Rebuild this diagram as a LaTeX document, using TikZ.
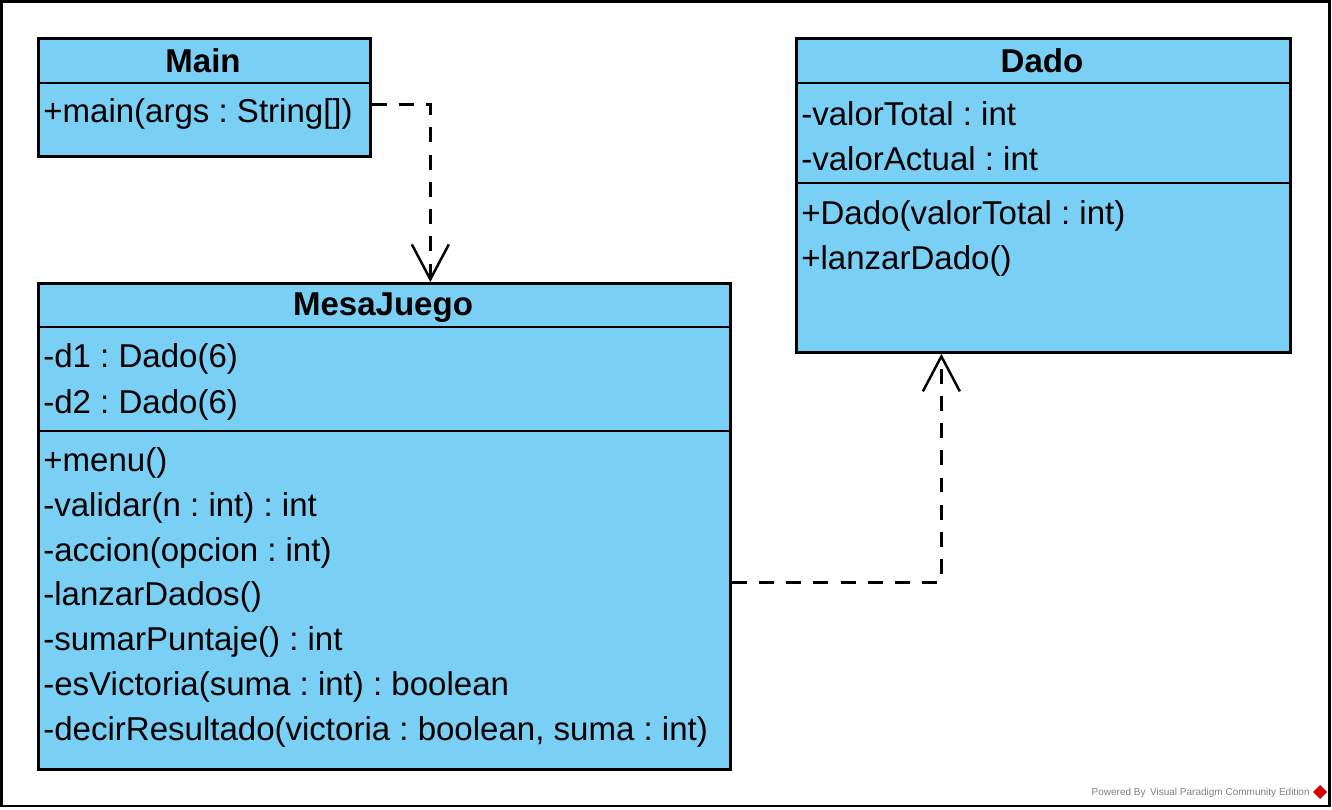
\documentclass[tikz,border=0pt]{standalone}
\usepackage{fontspec}
\setmainfont{Liberation Sans}
\usepackage{xcolor}
\usetikzlibrary{arrows.meta,calc}
\definecolor{vpblue}{RGB}{122,207,245}
\frenchspacing

\begin{document}
\begin{tikzpicture}[x=0.02cm,y=-0.02cm,
 classbox/.style={draw,line width=1.6pt,fill=vpblue,inner sep=0pt,anchor=north west},
 member/.style={anchor=west,inner sep=0pt,font=\fontsize{18.8}{20}\selectfont},
 title/.style={inner sep=0pt,font=\fontsize{18.8}{20}\selectfont\bfseries},
 divider/.style={line width=1.3pt},
 dep/.style={dash pattern=on 8.5pt off 7pt,line width=1.4pt,-{Straight Barb[length=0.7cm,width=0.74cm,line width=1.4pt]}}]
\useasboundingbox (0,0) rectangle (1332,810);
\draw[line width=1.7pt](1.5,1.5) rectangle (1329,806);
% classes
\node[classbox,minimum width=6.64cm,minimum height=2.36cm] (main) at (37,37) {};
\node[classbox,minimum width=13.84cm,minimum height=9.72cm] (mesa) at (37,282) {};
\node[classbox,minimum width=9.88cm,minimum height=6.28cm] (dado) at (795,37) {};
\draw[divider](main.west |- 0,83)--(main.east |- 0,83);
\draw[divider](mesa.west |- 0,327)--(mesa.east |- 0,327)(mesa.west |- 0,431)--(mesa.east |- 0,431);
\draw[divider](dado.west |- 0,83)--(dado.east |- 0,83)(dado.west |- 0,183)--(dado.east |- 0,183);
\node[title] (main-t) at (203,61) {Main};
\node[title] (mesa-t) at (383,308) {MesaJuego};
\node[title] (dado-t) at (1042,61) {Dado};
% members
\node[member] (main-m1) at (43,114) {+main(args : String[])};
\foreach \t [count=\i] in {-d1 : Dado(6),-d2 : Dado(6)}{
\node[member] (mesa-a\i) at (43,359+45.5*\i-45.5) {\t};}
\foreach \t [count=\i] in {+menu(),-validar(n : int) : int,-accion(opcion : int),-lanzarDados(),-sumarPuntaje() : int,-esVictoria(suma : int) : boolean,{-decirResultado(victoria : boolean, suma : int)}}{
\node[member] (mesa-m\i) at (43,463+44.8*\i-44.8) {\t};}
\foreach \t [count=\i] in {-valorTotal : int,-valorActual : int}{
\node[member] (dado-a\i) at (801,114+45*\i-45) {\t};}
\foreach \t [count=\i] in {+Dado(valorTotal : int),+lanzarDado()}{
\node[member] (dado-m\i) at (801,216+45*\i-45) {\t};}
% dependencies
\draw[dep]($(main.east)+(0,7)$)-|($(mesa.north)+(46,0)$);
\draw[dep]($(mesa.east)+(0,56)$)-|($(dado.south)+(-102,0)$);
% watermark
\node[anchor=east,inner sep=0pt,text=gray,font=\fontsize{5.7}{6}\selectfont] (wm) at (1310,793) {Powered By \,Visual Paradigm Community Edition};
\fill[red!85!black](1320,785)--(1327,792)--(1320,799)--(1313,792)--cycle;
\end{tikzpicture}
\end{document}
